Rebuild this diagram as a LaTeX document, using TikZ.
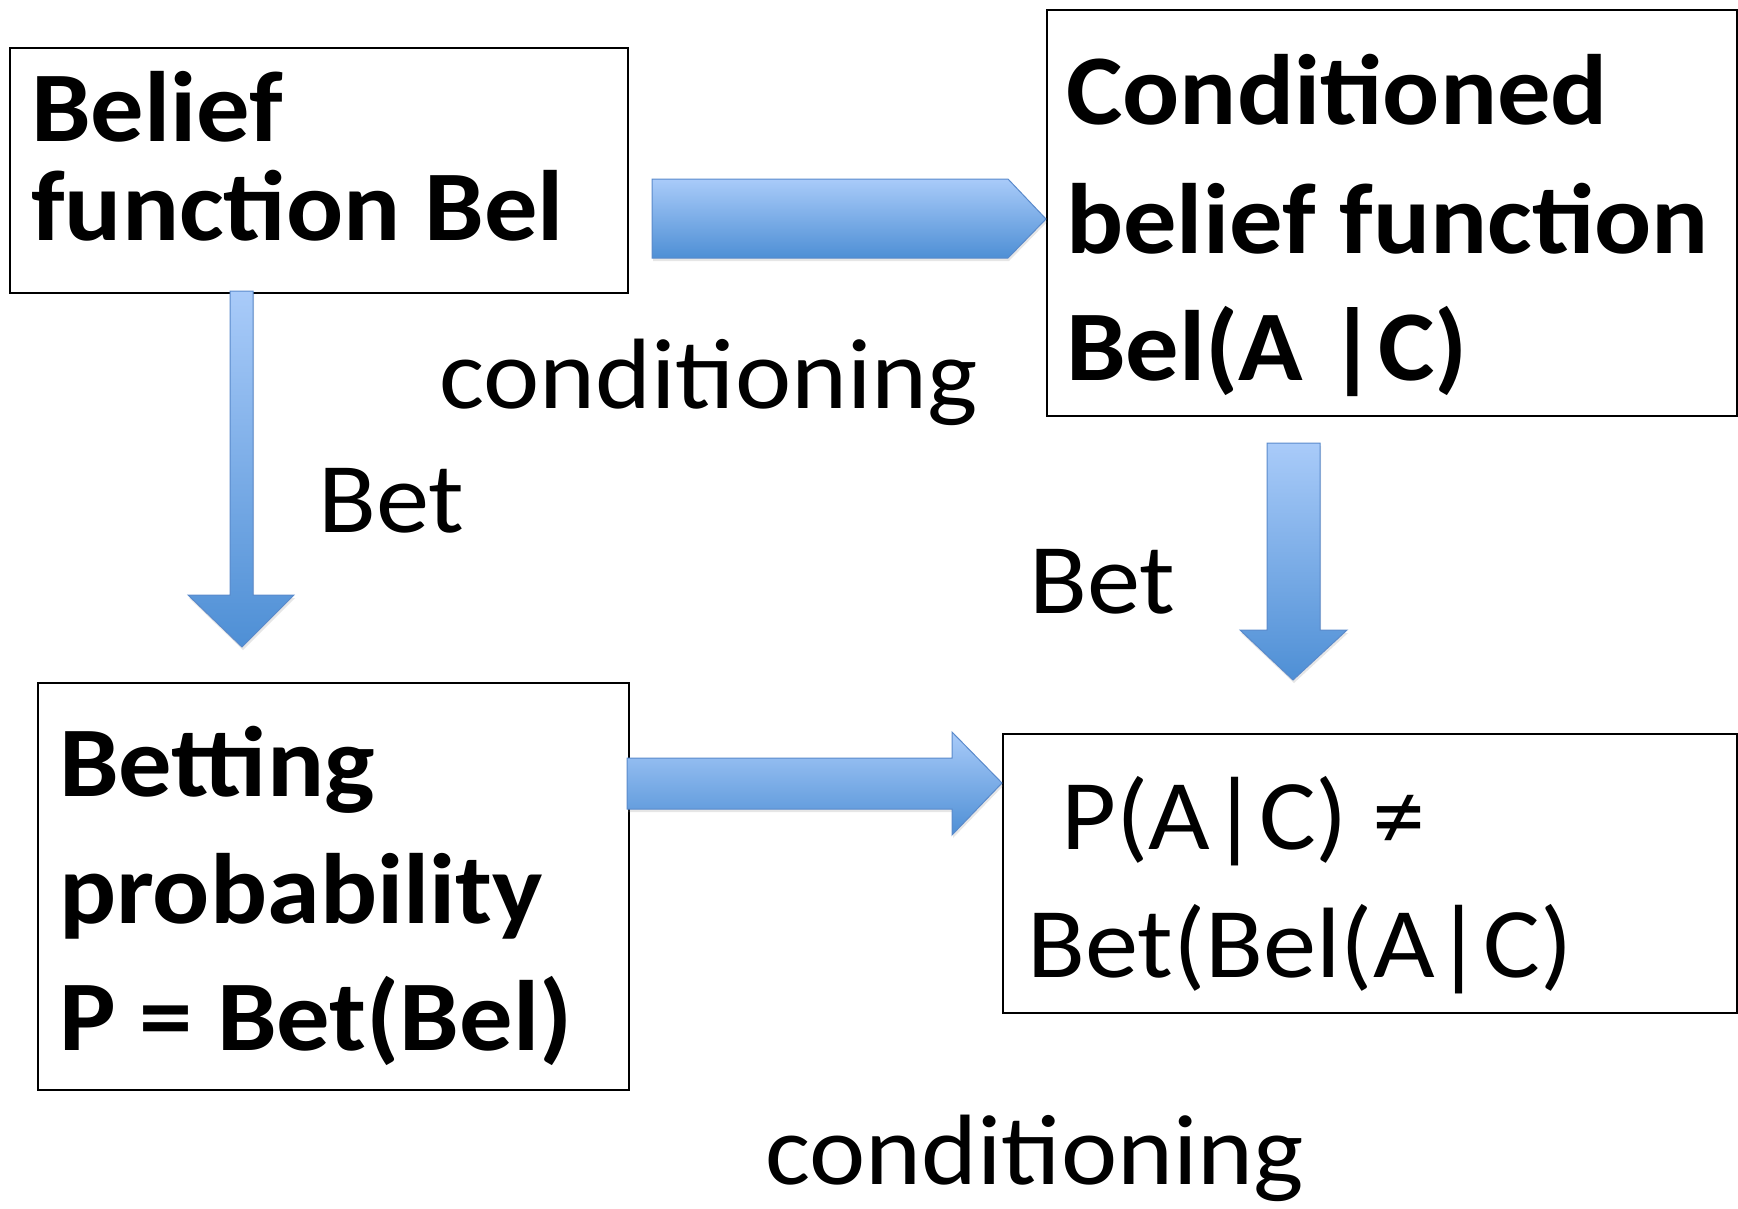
\documentclass[tikz,border=0pt]{standalone}
\usepackage{fontspec}
\setmainfont[FakeStretch=1.065]{Carlito}
\usetikzlibrary{shadows}
\definecolor{arrtop}{HTML}{A9CBF9}
\definecolor{arrbot}{HTML}{4E8FD5}
\definecolor{arrline}{HTML}{5A8ACB}
\begin{document}
\begin{tikzpicture}[x=1pt,y=-1pt,
  box/.style={draw=black,line width=2pt,inner sep=0pt,anchor=north west},
  bt/.style={anchor=base west,inner sep=0pt,font=\bfseries\fontsize{100}{100}\selectfont},
  rt/.style={anchor=base west,inner sep=0pt,font=\fontsize{100}{100}\selectfont},
  blockarrow/.style={draw=arrline,line width=1pt,top color=arrtop,bottom color=arrbot,
     drop shadow={opacity=0.2,shadow xshift=1pt,shadow yshift=-3pt}}]
\useasboundingbox (0,0) rectangle (1738,1208);
% boxes
\node[box,minimum width=618pt,minimum height=245pt] (b1) at (9,47) {};
\node[box,minimum width=690pt,minimum height=406pt] (b2) at (1046,9) {};
\node[box,minimum width=591pt,minimum height=407pt] (b3) at (37,682) {};
\node[box,minimum width=734pt,minimum height=279pt] (b4) at (1002,733) {};
% arrows
\path[blockarrow] (652,179) -- (1008,179) -- (1046,219) -- (1008,258) -- (652,258) -- cycle;
\path[blockarrow] (230,291) -- (253,291) -- (253,595) -- (294,595) -- (242,647) -- (188,595) -- (230,595) -- cycle;
\path[blockarrow] (1267,443) -- (1320,443) -- (1320,630) -- (1347,630) -- (1293,680) -- (1240,630) -- (1267,630) -- cycle;
\path[blockarrow] (627,758) -- (952,758) -- (952,732) -- (1002,783) -- (952,835) -- (952,809) -- (627,809) -- cycle;
% box texts
\node[bt] (t1a) at (31,141) {Belief};
\node[bt] (t1b) at (31,240) {function Bel};
\node[bt] (t2a) at (1066,124) {Conditioned};
\node[bt] (t2b) at (1066,253) {belief function};
\node[bt] (t2c) at (1066,380) {Bel(A |C)};
\node[bt] (t3a) at (59,796) {Betting};
\node[bt] (t3b) at (59,923) {probability};
\node[bt] (t3c) at (59,1050) {P = Bet(Bel)};
\node[rt] (t4a) at (1061,849) {P(A|C) ≠};
\node[rt] (t4b) at (1027,977) {Bet(Bel(A|C)};
% labels
\node[rt] (l1) at (439,408) {conditioning};
\node[rt] (l2) at (318,532) {Bet};
\node[rt] (l3) at (1029,613) {Bet};
\node[rt] (l4) at (765,1184) {conditioning};
\end{tikzpicture}
\end{document}
